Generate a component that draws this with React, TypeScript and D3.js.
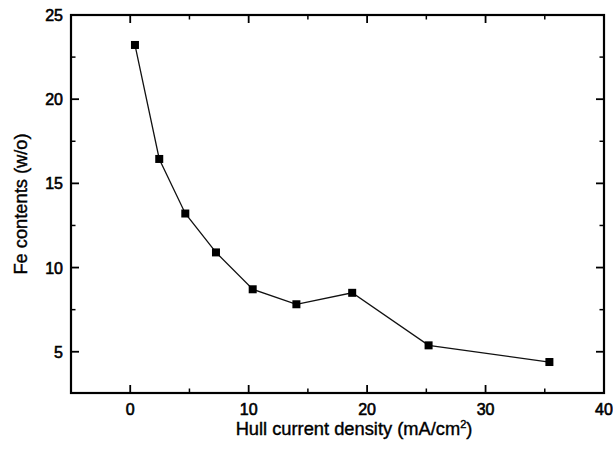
import React from "react";
import * as d3 from "d3";

const currentDensity = [0.4, 2.45, 4.65, 7.24, 10.34, 14.03, 18.74, 25.19, 35.39];
const feContent = [23.22, 16.45, 13.21, 10.9, 8.71, 7.82, 8.5, 5.38, 4.39];
const xMajorTicks = [0, 10, 20, 30, 40];
const xMinorTicks = [5, 15, 25, 35];
const yMajorTicks = [5, 10, 15, 20, 25];
const yMinorTicks = [7.5, 12.5, 17.5, 22.5];
const xTitle = "Hull current density (mA/cm";
const yTitle = "Fe contents (w/o)";

const W = 613, H = 449;
const L = 71, R = 604, T = 15, B = 393;

export default function App() {
  const x = d3.scaleLinear().domain([-5, 40]).range([L, R]);
  const y = d3.scaleLinear().domain([2.55, 25]).range([B, T]);
  const pts = currentDensity.map((d, i) => [x(d), y(feContent[i])] as [number, number]);
  const line = d3.line()(pts) as string;
  const font = "'Liberation Sans', Arial, sans-serif";
  const maj = 8, mnr = 4.5;
  const textStyle = { fontFamily: font, fill: "#000", stroke: "#000", strokeWidth: 0.6 };
  return (
    <svg width={W} height={H} style={{ position: "absolute", left: 0, top: 0, background: "#fff" }}>
      <rect x={0} y={0} width={W} height={H} fill="#fff" />
      <path d={line} fill="none" stroke="#111" strokeWidth={1.3} />
      {pts.map((p, i) => (
        <rect key={i} x={p[0] - 4} y={p[1] - 4} width={8} height={8} fill="#000" />
      ))}
      <rect x={L} y={T} width={R - L} height={B - T} fill="none" stroke="#000" strokeWidth={2.2} />
      {xMajorTicks.filter((t) => t < 40).map((t) => (
        <g key={"xm" + t}>
          <line x1={x(t)} x2={x(t)} y1={B} y2={B - maj} stroke="#000" strokeWidth={1.8} />
          <line x1={x(t)} x2={x(t)} y1={T} y2={T + maj} stroke="#000" strokeWidth={1.8} />
        </g>
      ))}
      {xMinorTicks.map((t) => (
        <g key={"xn" + t}>
          <line x1={x(t)} x2={x(t)} y1={B} y2={B - mnr} stroke="#000" strokeWidth={1.5} />
          <line x1={x(t)} x2={x(t)} y1={T} y2={T + mnr} stroke="#000" strokeWidth={1.5} />
        </g>
      ))}
      {yMajorTicks.filter((t) => t < 25).map((t) => (
        <g key={"ym" + t}>
          <line x1={L} x2={L + maj} y1={y(t)} y2={y(t)} stroke="#000" strokeWidth={1.8} />
          <line x1={R} x2={R - maj} y1={y(t)} y2={y(t)} stroke="#000" strokeWidth={1.8} />
        </g>
      ))}
      {yMinorTicks.map((t) => (
        <g key={"yn" + t}>
          <line x1={L} x2={L + mnr} y1={y(t)} y2={y(t)} stroke="#000" strokeWidth={1.5} />
          <line x1={R} x2={R - mnr} y1={y(t)} y2={y(t)} stroke="#000" strokeWidth={1.5} />
        </g>
      ))}
      {xMajorTicks.map((t) => (
        <text key={"xl" + t} x={x(t)} y={415} textAnchor="middle" fontSize={16} {...textStyle}>
          {t}
        </text>
      ))}
      {yMajorTicks.map((t) => (
        <text key={"yl" + t} x={63} y={y(t) + 6} textAnchor="end" fontSize={16} {...textStyle}>
          {t}
        </text>
      ))}
      <text x={354} y={435} textAnchor="middle" fontSize={18.3} {...textStyle} strokeWidth={0.4}>
        {xTitle}
        <tspan dy={-7} fontSize={11}>2</tspan>
        <tspan dy={7}>)</tspan>
      </text>
      <text transform={`translate(27,${204}) rotate(-90)`} textAnchor="middle" fontSize={18.3} {...textStyle} strokeWidth={0.4}>
        {yTitle}
      </text>
    </svg>
  );
}
